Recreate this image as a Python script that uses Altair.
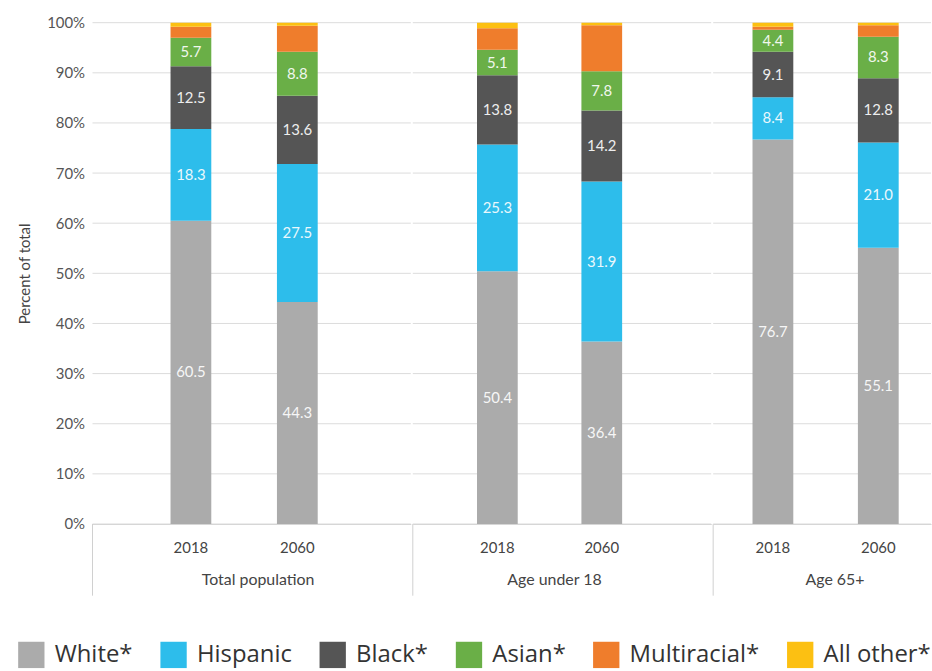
import altair as alt
import pandas as pd

groups = ["Total population", "Age under 18", "Age 65+"]
years = ["2018", "2060"]
categories = ["White*", "Hispanic", "Black*", "Asian*", "Multiracial*", "All other*"]
colors = ["#ababab", "#2dbdeb", "#555555", "#6aaf47", "#ef7d2c", "#fcc012"]

# values per bar: order = Total 2018, Total 2060, U18 2018, U18 2060, 65+ 2018, 65+ 2060
white = [60.5, 44.3, 50.4, 36.4, 76.7, 55.1]
hispanic = [18.3, 27.5, 25.3, 31.9, 8.4, 21.0]
black = [12.5, 13.6, 13.8, 14.2, 9.1, 12.8]
asian = [5.7, 8.8, 5.1, 7.8, 4.4, 8.3]
multiracial = [2.2, 5.2, 4.3, 9.2, 0.6, 2.3]
other = [0.8, 0.6, 1.1, 0.5, 0.8, 0.5]
labelled = ["White*", "Hispanic", "Black*", "Asian*"]
y_ticks = [0, 10, 20, 30, 40, 50, 60, 70, 80, 90, 100]

series = [white, hispanic, black, asian, multiracial, other]
rows = []
for gi, g in enumerate(groups):
    for yi, yr in enumerate(years):
        idx = gi * 2 + yi
        for ci, cat in enumerate(categories):
            v = series[ci][idx]
            rows.append({
                "group": g, "year": yr, "cat": cat, "order": ci, "value": v,
                "label": f"{v:.1f}" if cat in labelled else "",
            })
df = pd.DataFrame(rows)
grid_df = pd.DataFrame({"tick": y_ticks})
sep_df = pd.DataFrame({"top": [0], "bottom": [-14.3]})

FONT = "Lato"
H = 504
panel = {
    "Total population": dict(w=320, pi=0.617, po=0.804, align=0.456, tx=166),
    "Age under 18": dict(w=300, pi=0.610, po=0.734, align=0.419, tx=142),
    "Age 65+": dict(w=219, pi=0.613, po=0.34, align=0.549, tx=122),
}

color_scale = alt.Scale(domain=categories, range=colors)
yscale = alt.Scale(domain=[0, 100], nice=False)


def make_panel(g, first):
    p = panel[g]
    base = alt.Chart(df).transform_filter(alt.datum.group == g).transform_stack(
        stack="value", groupby=["group", "year"], sort=[alt.SortField("order", "ascending")],
        as_=["v0", "v1"]
    ).transform_calculate(mid="(datum.v0 + datum.v1) / 2")

    xenc = alt.X(
        "year:N",
        scale=alt.Scale(paddingInner=p["pi"], paddingOuter=p["po"], align=p["align"]),
        axis=alt.Axis(
            title=g, labelAngle=0, ticks=False, labelPadding=17, labelFontSize=15,
            labelColor="#444", labelFont=FONT, titleFont=FONT, titleFontSize=16,
            titleFontWeight="normal", titleColor="#444", titlePadding=16,
            domainColor="#d0d0d0", titleX=p["tx"], grid=False,
        ),
    )
    if first:
        yaxis = alt.Axis(
            title="Percent of total", values=y_ticks,
            labelExpr="datum.value + '%'", ticks=False, domain=False, grid=False,
            labelFontSize=15, labelColor="#555", labelFont=FONT, labelPadding=8,
            titleFont=FONT, titleFontSize=15, titleFontWeight="normal",
            titleColor="#444", titlePadding=14,
        )
    else:
        yaxis = None

    grid = alt.Chart(grid_df).mark_rule(color="#dcdcdc", strokeWidth=1).encode(
        y=alt.Y("tick:Q", scale=yscale, axis=yaxis)
    )
    bars = base.mark_bar().encode(
        x=xenc,
        y=alt.Y("v0:Q", scale=yscale),
        y2="v1:Q",
        color=alt.Color(
            "cat:N", scale=color_scale, sort=categories,
            legend=alt.Legend(
                title=None, orient="none", direction="horizontal",
                legendX=-75, legendY=622,
                symbolType="square", symbolSize=700, symbolStrokeWidth=0,
                symbolOpacity=1, labelFontSize=24, labelFont="Open Sans",
                labelColor="#333", columnPadding=27, labelOffset=10,
                columns=6,
            ),
        ),
    )
    text = base.mark_text(
        color="white", fontSize=15, font=FONT, opacity=0.9
    ).encode(
        x=alt.X("year:N"),
        y=alt.Y("mid:Q", scale=yscale),
        text="label:N",
    )
    sep = alt.Chart(sep_df).mark_rule(color="#d0d0d0", strokeWidth=1, clip=False).encode(
        x=alt.value(0),
        y=alt.Y("top:Q", scale=yscale),
        y2="bottom:Q",
    )
    return alt.layer(grid, bars, text, sep).properties(width=p["w"], height=H)


chart = alt.hconcat(
    *[make_panel(g, i == 0) for i, g in enumerate(groups)], spacing=0
).resolve_scale(x="independent").properties(
    padding={"left": 17, "top": 14, "right": 0, "bottom": 0}
).configure(
    font=FONT, view=alt.ViewConfig(stroke=None, strokeWidth=0)
)

chart.save("out.html", embed_options={"renderer": "svg", "actions": False})
